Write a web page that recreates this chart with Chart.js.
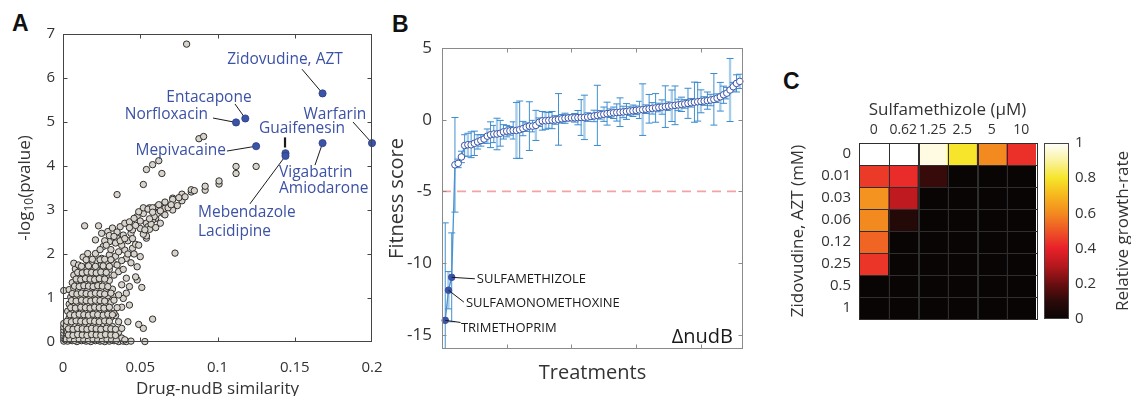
<!DOCTYPE html>
<html>
<head>
<meta charset="utf-8">
<script src="https://cdn.jsdelivr.net/npm/chart.js@4.4.1/dist/chart.umd.min.js"></script>
<style>
body { margin: 0; width: 1131px; height: 396px; background: #fff; position: relative; overflow: hidden; }
canvas { position: absolute; top: 0; }
.tag { position: absolute; font: bold 23px "Liberation Sans", Arial, sans-serif; line-height: 23px; color: #111; }
</style>
</head>
<body>
<div class="tag" style="left:12px;top:12px">A</div>
<div class="tag" style="left:392px;top:13px">B</div>
<div class="tag" style="left:783px;top:70px">C</div>
<canvas id="cA" width="400" height="396" style="left:0"></canvas>
<canvas id="cB" width="380" height="396" style="left:380px"></canvas>
<canvas id="cC" width="280" height="396" style="left:770px"></canvas>
<canvas id="cD" width="91" height="396" style="left:1040px"></canvas>
<script>
// ---- panel A: drug similarity vs -log10(p) ----
const simTicks = [0, 0.05, 0.1, 0.15, 0.2];
const pTicks = [0, 1, 2, 3, 4, 5, 6, 7];
const simPairs = [
  [0.0005,0.02],[0.0005,0.08],[0.0005,0.14],[0.0005,0.2],[0.0005,0.27],[0.0005,0.34],[0.0005,0.42],[0.0005,1.17],
  [0.003,0.02],[0.006,0.03],[0.009,0.01],[0.012,0.03],[0.015,0.02],[0.018,0.01],[0.021,0.03],[0.024,0.02],[0.027,0.01],[0.030,0.02],[0.033,0.03],[0.036,0.01],[0.039,0.02],[0.041,0.01],[0.044,0.02],[0.053,0.01],
  [0.002,0.09],[0.005,0.11],[0.008,0.08],[0.011,0.10],[0.014,0.12],[0.017,0.09],[0.020,0.11],[0.023,0.08],[0.026,0.10],[0.029,0.12],[0.032,0.09],[0.035,0.07],[0.038,0.09],
  [0.003,0.22],[0.006,0.20],[0.009,0.24],[0.012,0.21],[0.015,0.25],[0.018,0.22],[0.021,0.19],[0.024,0.23],[0.027,0.26],[0.030,0.20],[0.033,0.27],[0.036,0.22],
  [0.002,0.36],[0.005,0.40],[0.008,0.37],[0.011,0.41],[0.014,0.38],[0.017,0.35],[0.020,0.40],[0.023,0.37],[0.026,0.42],[0.029,0.38],[0.032,0.35],[0.042,0.46],[0.049,0.40],[0.052,0.31],[0.058,0.52],
  [0.004,0.55],[0.007,0.52],[0.010,0.57],[0.013,0.54],[0.016,0.50],[0.019,0.56],[0.022,0.53],[0.025,0.58],[0.028,0.51],[0.031,0.56],[0.034,0.60],
  [0.003,0.70],[0.006,0.72],[0.009,0.68],[0.012,0.73],[0.015,0.69],[0.018,0.71],[0.021,0.67],[0.024,0.74],[0.027,0.70],[0.030,0.66],[0.033,0.65],[0.038,0.79],[0.043,0.84],
  [0.004,0.86],[0.007,0.90],[0.010,0.85],[0.013,0.88],[0.016,0.84],[0.019,0.90],[0.022,0.86],[0.025,0.89],[0.028,0.83],[0.031,0.90],[0.039,0.99],
  [0.005,1.02],[0.008,1.05],[0.011,1.00],[0.014,1.04],[0.017,1.01],[0.020,1.06],[0.023,1.02],[0.026,0.98],[0.029,1.05],[0.033,1.03],[0.036,1.07],[0.041,1.11],
  [0.004,1.19],[0.007,1.22],[0.010,1.18],[0.013,1.21],[0.016,1.17],[0.019,1.23],[0.022,1.19],[0.025,1.16],[0.028,1.22],[0.032,1.20],[0.043,1.26],[0.051,1.24],
  [0.006,1.35],[0.009,1.38],[0.012,1.33],[0.015,1.37],[0.018,1.34],[0.021,1.39],[0.024,1.32],[0.027,1.36],[0.030,1.40],[0.038,1.30],[0.048,1.41],
  [0.007,1.52],[0.010,1.48],[0.013,1.53],[0.016,1.47],[0.019,1.51],[0.022,1.49],[0.025,1.55],[0.028,1.50],[0.033,1.52],[0.041,1.45],[0.047,1.48],
  [0.008,1.66],[0.011,1.63],[0.014,1.68],[0.017,1.64],[0.020,1.69],[0.023,1.62],[0.026,1.67],[0.030,1.65],[0.036,1.60],
  [0.007,1.79],[0.010,1.75],[0.015,1.71],[0.019,1.79],[0.022,1.84],[0.025,1.76],[0.028,1.82],[0.033,1.78],[0.048,1.71],
  [0.013,1.93],[0.016,2.01],[0.021,2.01],[0.025,1.90],[0.030,1.98],[0.034,1.95],[0.050,1.94],[0.041,1.90],[0.044,1.80],
  // second, staggered layer of the dense cloud
  [0.0015,0.05],[0.0045,0.06],[0.0075,0.04],[0.0105,0.06],[0.0135,0.05],[0.0165,0.04],[0.0195,0.06],[0.0225,0.05],[0.0255,0.04],[0.0285,0.06],[0.0315,0.05],[0.0345,0.04],[0.040,0.05],
  [0.0035,0.16],[0.0065,0.15],[0.0095,0.17],[0.0125,0.16],[0.0155,0.15],[0.0185,0.17],[0.0215,0.16],[0.0245,0.15],[0.0275,0.17],[0.031,0.16],[0.034,0.15],
  [0.0035,0.30],[0.0065,0.29],[0.0095,0.31],[0.0125,0.30],[0.0155,0.29],[0.0185,0.31],[0.0215,0.30],[0.0245,0.29],[0.028,0.31],[0.031,0.30],[0.034,0.29],[0.038,0.31],
  [0.0025,0.47],[0.0055,0.46],[0.0085,0.48],[0.0115,0.47],[0.0145,0.46],[0.0175,0.48],[0.0205,0.47],[0.0235,0.46],[0.027,0.48],[0.030,0.47],[0.036,0.46],
  [0.0045,0.62],[0.0075,0.61],[0.0105,0.63],[0.0135,0.62],[0.0165,0.61],[0.0195,0.63],[0.0225,0.62],[0.026,0.61],[0.029,0.63],[0.032,0.62],
  [0.005,0.78],[0.008,0.77],[0.0115,0.79],[0.0145,0.78],[0.0175,0.77],[0.0205,0.79],[0.0235,0.78],[0.0265,0.77],[0.030,0.79],[0.035,0.78],
  [0.0055,0.94],[0.0085,0.93],[0.012,0.95],[0.015,0.94],[0.018,0.93],[0.021,0.95],[0.024,0.94],[0.027,0.93],[0.033,0.95],
  [0.006,1.10],[0.009,1.09],[0.012,1.11],[0.015,1.10],[0.018,1.09],[0.021,1.11],[0.024,1.10],[0.027,1.09],[0.031,1.11],
  [0.0075,1.27],[0.0105,1.26],[0.0135,1.28],[0.0165,1.27],[0.0195,1.26],[0.0225,1.28],[0.0255,1.27],[0.029,1.26],
  [0.0085,1.43],[0.0115,1.42],[0.0145,1.44],[0.0175,1.43],[0.0205,1.42],[0.0235,1.44],[0.027,1.43],
  [0.0095,1.58],[0.0125,1.57],[0.0155,1.59],[0.0185,1.58],[0.0215,1.57],[0.0245,1.59],[0.028,1.58],
  [0.012,1.72],[0.0165,1.73],[0.021,1.72],[0.026,1.73],[0.030,1.72],
  [0.015,1.87],[0.019,1.88],[0.024,1.87],[0.027,1.88],[0.031,1.87],
  // arcs
  [0.036,2.05],[0.040,2.09],[0.045,2.13],[0.054,2.36],
  [0.026,2.17],[0.030,2.28],[0.035,2.36],[0.039,2.43],[0.044,2.47],[0.050,2.58],[0.054,2.70],[0.060,2.81],[0.065,2.92],[0.066,2.89],
  [0.021,2.32],[0.025,2.47],[0.029,2.51],[0.032,2.59],[0.037,2.62],[0.040,2.70],[0.043,2.73],[0.048,2.85],[0.052,2.92],[0.056,3.05],[0.061,3.08],[0.066,3.16],[0.071,3.27],
  [0.046,2.81],[0.049,2.96],[0.052,3.05],[0.055,3.02],[0.058,3.05],[0.062,3.12],[0.066,3.04],[0.066,3.18],[0.071,3.00],[0.071,3.24],[0.074,3.10],[0.077,3.21],[0.077,3.36],
  [0.061,2.92],[0.058,2.77],[0.055,2.62],[0.059,2.85],[0.056,2.56],[0.054,2.41],
  [0.083,3.41],[0.083,3.46],[0.092,3.45],[0.092,3.54],[0.101,3.59],[0.101,3.66],[0.112,3.83],[0.112,3.99],[0.125,3.99],
  [0.042,2.30],[0.045,2.55],[0.038,2.20],[0.047,2.22],[0.052,2.45],[0.057,2.68],[0.063,2.70],[0.060,2.60],[0.031,2.10],[0.034,2.25],[0.027,2.30],[0.030,2.42],[0.035,2.50],
  [0.024,2.10],[0.028,2.20],[0.033,2.40],[0.037,2.30],[0.040,2.35],[0.043,2.60],[0.047,2.65],[0.050,2.75],[0.038,1.85],[0.042,2.00],[0.046,2.00],[0.035,1.75],
  [0.039,1.65],[0.045,2.35],[0.049,2.20],[0.053,2.55],[0.056,2.80],[0.058,2.95],[0.063,2.98],[0.068,3.05],[0.070,3.12],[0.075,3.28],[0.079,3.30],[0.085,3.44],
  // outliers
  [0.014,2.64],[0.023,2.64],[0.035,3.35],[0.052,3.58],[0.054,3.92],[0.058,4.03],[0.062,4.12],[0.064,3.83],[0.088,4.62],[0.091,4.67],[0.080,6.77],[0.0725,2.02]
];
// highlighted drugs (blue)
const hitNames = ['Zidovudine, AZT', 'Entacapone', 'Norfloxacin', 'Mepivacaine', 'Guaifenesin', 'Mebendazole/Lacidipine', 'Vigabatrin/Amiodarone', 'Warfarin'];
const hitX = [0.168, 0.118, 0.112, 0.125, 0.144, 0.144, 0.168, 0.2];
const hitY = [5.65, 5.08, 4.99, 4.45, 4.29, 4.23, 4.52, 4.52];
const labelsA = [
  { t: 'Zidovudine, AZT', x: 0.1437, y: 6.43, a: 'center' },
  { t: 'Entacapone', x: 0.0945, y: 5.55, a: 'center' },
  { t: 'Norfloxacin', x: 0.0939, y: 5.18, a: 'right' },
  { t: 'Mepivacaine', x: 0.1055, y: 4.34, a: 'right' },
  { t: 'Guaifenesin', x: 0.1547, y: 4.86, a: 'center' },
  { t: 'Vigabatrin', x: 0.1398, y: 3.84, a: 'left' },
  { t: 'Amiodarone', x: 0.1398, y: 3.48, a: 'left' },
  { t: 'Warfarin', x: 0.176, y: 5.18, a: 'center' },
  { t: 'Mebendazole', x: 0.0874, y: 2.95, a: 'left' },
  { t: 'Lacidipine', x: 0.0874, y: 2.52, a: 'left' }
];
const leadersA = [
  { from: [0.1547, 6.2], pt: 0 },
  { from: [0.1113, 5.41], pt: 1 },
  { from: [0.0971, 5.09], pt: 2 },
  { from: [0.1061, 4.34], pt: 3 },
  { from: [0.1437, 4.65], to: [0.1437, 4.42], w: 2.2 },
  { from: [0.121, 3.14], pt: 5 },
  { from: [0.1631, 4.02], pt: 6 },
  { from: [0.1877, 5.0], pt: 7 }
];

// ---- panel B: fitness scores of treatments ----
const treatTicks = [20, 40, 60, 80];
const fitTicks = [-15, -10, -5, 0, 5];
const threshold = -5;
const drugLabelsB = ['TRIMETHOPRIM', 'SULFAMONOMETHOXINE', 'SULFAMETHIZOLE'];
const fitness = [
  -14.0, -11.9, -11.0, -3.15, -3.05, -2.6, -1.8, -1.75, -1.75, -1.65,
  -1.55, -1.45, -1.35, -1.15, -1.05, -1.0, -1.0, -0.95, -0.85, -0.8,
  -0.78, -0.75, -0.75, -0.7, -0.62, -0.52, -0.45, -0.45, -0.4, -0.18,
  -0.08, -0.07, -0.05, -0.03, -0.02, 0.02, 0.06, 0.1, 0.12, 0.13,
  0.13, 0.14, 0.15, 0.16, 0.18, 0.22, 0.26, 0.3, 0.34, 0.38,
  0.42, 0.45, 0.48, 0.5, 0.52, 0.54, 0.57, 0.6, 0.62, 0.65,
  0.68, 0.7, 0.73, 0.76, 0.79, 0.82, 0.85, 0.88, 0.91, 0.94,
  0.97, 1.0, 1.03, 1.07, 1.1, 1.14, 1.18, 1.22, 1.25, 1.28,
  1.3, 1.33, 1.37, 1.42, 1.5, 1.6, 1.74, 1.85, 2.07, 2.3,
  2.53, 2.67
];
const fitErr = [
  6.8, 1.3, 3.1, 3.3, 0.3, 0.4, 0.75, 0.8, 0.9, 0.85,
  0.5, 0.4, 0.3, 0.5, 0.9, 0.6, 1.1, 0.9, 0.5, 0.4,
  0.3, 0.6, 1.95, 2.0, 0.5, 0.3, 1.7, 0.4, 1.05, 0.3,
  0.65, 0.6, 0.55, 0.6, 0.3, 1.8, 0.3, 0.35, 0.2, 0.2,
  0.3, 0.5, 1.25, 1.55, 0.3, 0.2, 0.4, 2.1, 0.3, 0.5,
  0.8, 0.3, 0.4, 0.6, 1.0, 0.4, 0.55, 0.3, 0.4, 0.3,
  0.6, 1.8, 0.3, 1.0, 0.4, 1.0, 0.3, 0.5, 1.45, 0.3,
  1.1, 1.35, 0.4, 0.5, 0.3, 1.05, 0.3, 1.4, 1.35, 0.8,
  0.3, 0.6, 0.4, 1.8, 0.3, 1.0, 0.6, 0.4, 2.2, 0.3,
  0.6, 0.5
];
const labelsB = [
  { t: 'SULFAMETHIZOLE', x: 10.77, y: -11.14, from: [10.15, -11.1], pt: 2 },
  { t: 'SULFAMONOMETHOXINE', x: 7.38, y: -12.82, from: [6.77, -12.73], pt: 1 },
  { t: 'TRIMETHOPRIM', x: 5.85, y: -14.56, from: [5.75, -14.15], pt: 0 }
];

// ---- panel C: checkerboard of growth rates ----
const sulfaDoses = ['0', '0.62', '1.25', '2.5', '5', '10'];
const aztDoses = ['0', '0.01', '0.03', '0.06', '0.12', '0.25', '0.5', '1'];
const growth = [
  [1.0, 1.0, 0.97, 0.8, 0.6, 0.43],
  [0.45, 0.42, 0.12, 0.0, 0.0, 0.0],
  [0.62, 0.32, 0.0, 0.0, 0.0, 0.0],
  [0.6, 0.08, 0.0, 0.0, 0.0, 0.0],
  [0.53, 0.0, 0.0, 0.0, 0.0, 0.0],
  [0.44, 0.0, 0.0, 0.0, 0.0, 0.0],
  [0.0, 0.0, 0.0, 0.0, 0.0, 0.0],
  [0.0, 0.0, 0.0, 0.0, 0.0, 0.0]
];
const cbTicks = [0, 0.2, 0.4, 0.6, 0.8, 1];
const hotStops = [[0, '#0a0505'], [0.1, '#2b0a0a'], [0.2, '#6b0e10'], [0.3, '#b3181d'], [0.4, '#e8202a'],
  [0.5, '#ee5526'], [0.6, '#f38a20'], [0.7, '#f6b61d'], [0.8, '#f6e52a'], [0.9, '#faf3a0'], [1, '#ffffff']];

function hexRgb(h) { return [1, 3, 5].map(i => parseInt(h.substr(i, 2), 16)); }
function hotColor(v) {
  for (let i = 1; i < hotStops.length; i++) {
    if (v <= hotStops[i][0]) {
      const [v0, c0] = hotStops[i - 1], [v1, c1] = hotStops[i];
      const f = (v - v0) / (v1 - v0), a = hexRgb(c0), b = hexRgb(c1);
      return 'rgb(' + a.map((c, k) => Math.round(c + (b[k] - c) * f)).join(',') + ')';
    }
  }
  return hotStops[hotStops.length - 1][1];
}

Chart.defaults.font.family = '"Open Sans", sans-serif';
Chart.defaults.color = '#333';
Chart.defaults.animation = false;
Chart.defaults.plugins.legend.display = false;
Chart.defaults.plugins.tooltip.enabled = false;

const setTicks = arr => s => { s.ticks = arr.map(v => ({ value: v })); };
const noGrid = { display: false, drawTicks: false };
const noBorder = { display: false };

// box round the plot area, with inward ticks like matlab
const frame = {
  id: 'frame',
  afterDraw(chart, args, opts) {
    const { ctx, chartArea: a } = chart;
    ctx.save();
    ctx.strokeStyle = opts.color || '#444';
    ctx.lineWidth = 1;
    const l = Math.round(a.left) + 0.5, t = Math.round(a.top) + 0.5;
    const r = Math.round(a.right) - 0.5, b = Math.round(a.bottom) - 0.5;
    ctx.strokeRect(l, t, r - l, b - t);
    const L = opts.tick || 0;
    if (L) {
      ctx.beginPath();
      const sx = chart.scales.x, sy = chart.scales.y;
      if (sx) sx.ticks.forEach(k => {
        const p = Math.round(sx.getPixelForValue(k.value)) + 0.5;
        if (p < l + 2 || p > r - 2) return;
        ctx.moveTo(p, b); ctx.lineTo(p, b - L);
        ctx.moveTo(p, t); ctx.lineTo(p, t + L);
      });
      if (sy) sy.ticks.forEach(k => {
        const p = Math.round(sy.getPixelForValue(k.value)) + 0.5;
        if (p < t + 2 || p > b - 2) return;
        ctx.moveTo(l, p); ctx.lineTo(l + L, p);
        ctx.moveTo(r, p); ctx.lineTo(r - L, p);
      });
      ctx.stroke();
    }
    ctx.restore();
  }
};

// panel A annotations
const annotA = {
  id: 'annotA',
  beforeDatasetsDraw(chart) {
    const { ctx, scales: { x, y } } = chart;
    ctx.save();
    ctx.strokeStyle = '#1a1a1a';
    leadersA.forEach(d => {
      const to = d.to || [hitX[d.pt], hitY[d.pt]];
      ctx.lineWidth = d.w || 1;
      ctx.beginPath();
      ctx.moveTo(x.getPixelForValue(d.from[0]), y.getPixelForValue(d.from[1]));
      ctx.lineTo(x.getPixelForValue(to[0]), y.getPixelForValue(to[1]));
      ctx.stroke();
    });
    ctx.restore();
  },
  afterDatasetsDraw(chart) {
    const { ctx, scales: { x, y } } = chart;
    ctx.save();
    ctx.fillStyle = '#3c52a4';
    ctx.font = '15.5px "Open Sans"';
    ctx.textBaseline = 'middle';
    labelsA.forEach(d => {
      ctx.textAlign = d.a;
      ctx.fillText(d.t, x.getPixelForValue(d.x), y.getPixelForValue(d.y));
    });
    // y title with subscript
    const cy = (chart.chartArea.top + chart.chartArea.bottom) / 2;
    ctx.fillStyle = '#333';
    ctx.translate(25, cy);
    ctx.rotate(-Math.PI / 2);
    ctx.textAlign = 'left';
    ctx.textBaseline = 'middle';
    const big = '17px "Open Sans"', small = '12px "Open Sans"';
    ctx.font = big; const w1 = ctx.measureText('-log').width, w3 = ctx.measureText('(pvalue)').width;
    ctx.font = small; const w2 = ctx.measureText('10').width;
    let px = -(w1 + w2 + w3) / 2;
    ctx.font = big; ctx.fillText('-log', px, 0); px += w1;
    ctx.font = small; ctx.fillText('10', px, 5); px += w2;
    ctx.font = big; ctx.fillText('(pvalue)', px, 0);
    ctx.restore();
  }
};

new Chart(document.getElementById('cA'), {
  type: 'scatter',
  data: {
    datasets: [
      { data: hitX.map((x, i) => ({ x, y: hitY[i] })), backgroundColor: '#3b54a6', borderColor: '#2c3f86',
        borderWidth: 0.8, pointRadius: 3.6, order: 0, clip: false },
      { data: simPairs.map(([x, y]) => ({ x, y })), backgroundColor: '#d8d3cb', borderColor: '#2e2e2e',
        borderWidth: 1, pointRadius: 3.2, order: 1, clip: false }
    ]
  },
  options: {
    responsive: false,
    layout: { padding: { top: 34, right: 28, left: 0, bottom: 0 } },
    scales: {
      x: {
        type: 'linear', min: 0, max: 0.2,
        afterFit: s => { s.height = 54; }, afterBuildTicks: setTicks(simTicks),
        ticks: { padding: 17, font: { size: 15 }, callback: v => String(v) },
        grid: noGrid, border: noBorder,
        title: { display: true, text: 'Drug-nudB similarity', font: { size: 17, lineHeight: 0.8 }, padding: { top: 0, bottom: 0 } }
      },
      y: {
        type: 'linear', min: 0, max: 7,
        afterFit: s => { s.width = 63; }, afterBuildTicks: setTicks(pTicks),
        ticks: { padding: 8, font: { size: 15 } },
        grid: noGrid, border: noBorder
      }
    },
    plugins: { frame: { color: '#444', tick: 4 } }
  },
  plugins: [frame, annotA]
});

// panel B error bars + labels
const extrasB = {
  id: 'extrasB',
  beforeDatasetsDraw(chart) {
    const { ctx, chartArea: a, scales: { x, y } } = chart;
    ctx.save();
    ctx.beginPath();
    ctx.rect(a.left, a.top, a.right - a.left, a.bottom - a.top);
    ctx.clip();
    fitness.forEach((v, i) => {
      const px = x.getPixelForValue(i + 1);
      const t = y.getPixelForValue(v + fitErr[i]), b = y.getPixelForValue(v - fitErr[i]);
      const light = i % 3 === 1;
      ctx.strokeStyle = light ? '#a8cdea' : '#4190d0';
      ctx.lineWidth = light ? 2.4 : 1;
      ctx.beginPath(); ctx.moveTo(px, t); ctx.lineTo(px, b); ctx.stroke();
      ctx.strokeStyle = '#3a8bcf';
      ctx.lineWidth = 1;
      ctx.beginPath();
      ctx.moveTo(px - 3.5, t); ctx.lineTo(px + 3.5, t);
      ctx.moveTo(px - 3.5, b); ctx.lineTo(px + 3.5, b);
      ctx.stroke();
    });
    ctx.restore();
  },
  afterDatasetsDraw(chart) {
    const { ctx, chartArea: a, scales: { x, y } } = chart;
    ctx.save();
    ctx.strokeStyle = '#1a1a1a';
    ctx.lineWidth = 1;
    labelsB.forEach(d => {
      ctx.beginPath();
      ctx.moveTo(x.getPixelForValue(d.pt + 1), y.getPixelForValue(fitness[d.pt]));
      ctx.lineTo(x.getPixelForValue(d.from[0]), y.getPixelForValue(d.from[1]));
      ctx.stroke();
    });
    ctx.fillStyle = '#1a1a1a';
    ctx.font = '13px "Open Sans"';
    ctx.textAlign = 'left';
    ctx.textBaseline = 'middle';
    labelsB.forEach(d => ctx.fillText(d.t, x.getPixelForValue(d.x), y.getPixelForValue(d.y)));
    ctx.font = '20px "Open Sans"';
    ctx.textAlign = 'right';
    ctx.textBaseline = 'alphabetic';
    ctx.fillText('\u0394nudB', a.right - 10, a.bottom - 6);
    ctx.restore();
  }
};

new Chart(document.getElementById('cB'), {
  type: 'line',
  data: {
    datasets: [
      { data: fitness.map((v, i) => ({ x: i + 1, y: v })), borderColor: '#4a92d2', borderWidth: 1.3,
        pointRadius: 3.3, pointBorderWidth: 1, pointBorderColor: '#3b54a6',
        pointBackgroundColor: fitness.map((v, i) => i < drugLabelsB.length ? '#3b54a6' : '#ffffff'),
        order: 0, clip: false },
      { data: [{ x: 0, y: threshold }, { x: 93, y: threshold }], borderColor: '#f4a3a3', borderWidth: 1.6,
        borderDash: [9, 6], pointRadius: 0, order: 1 }
    ]
  },
  options: {
    responsive: false,
    layout: { padding: { top: 48, right: 17, left: 0, bottom: 0 } },
    scales: {
      x: {
        type: 'linear', min: 0, max: 93,
        afterFit: s => { s.height = 47; }, afterBuildTicks: setTicks(treatTicks),
        ticks: { display: false }, grid: noGrid, border: noBorder,
        title: { display: true, text: 'Treatments', font: { size: 20, lineHeight: 1.2 }, padding: { top: 0, bottom: 11 } }
      },
      y: {
        type: 'linear', min: -16, max: 5,
        afterFit: s => { s.width = 62; }, afterBuildTicks: setTicks(fitTicks),
        ticks: { padding: 10, font: { size: 17 } }, grid: noGrid, border: noBorder,
        title: { display: true, text: 'Fitness score', font: { size: 20, lineHeight: 1.2 }, padding: { top: 5, bottom: 0 } }
      }
    },
    plugins: { frame: { color: '#8a8a8a', tick: 4 } }
  },
  plugins: [frame, extrasB]
});

// panel C cell outlines
const cellLines = {
  id: 'cellLines',
  afterDatasetsDraw(chart) {
    const { ctx } = chart;
    ctx.save();
    ctx.strokeStyle = '#2e2e2e';
    ctx.lineWidth = 1;
    chart.data.datasets.forEach((ds, r) => {
      chart.getDatasetMeta(r).data.forEach(el => {
        const top = Math.min(el.y, el.base), h = Math.abs(el.base - el.y);
        ctx.strokeRect(Math.round(el.x - el.width / 2) + 0.5, Math.round(top) + 0.5, Math.round(el.width), Math.round(h));
      });
    });
    ctx.restore();
  }
};

new Chart(document.getElementById('cC'), {
  type: 'bar',
  data: {
    labels: sulfaDoses,
    datasets: growth.map((row, r) => ({
      data: row.map(() => [r, r + 1]),
      backgroundColor: row.map(hotColor),
      borderWidth: 0, grouped: false, barPercentage: 1, categoryPercentage: 1
    }))
  },
  options: {
    responsive: false,
    layout: { padding: { top: 88, right: 14, left: 0, bottom: 77 } },
    scales: {
      x: {
        position: 'top', afterFit: s => { s.height = 55; },
        ticks: { padding: 5, font: { size: 14 }, maxRotation: 0, minRotation: 0, autoSkip: false },
        grid: noGrid, border: noBorder,
        title: { display: true, text: 'Sulfamethizole (\u03bcM)', font: { size: 17, lineHeight: 1.2 }, padding: { top: 12, bottom: 0 } }
      },
      y: {
        type: 'linear', min: 0, max: 8, reverse: true,
        afterFit: s => { s.width = 89; },
        afterBuildTicks: s => { s.ticks = aztDoses.map((d, i) => ({ value: i + 0.5 })); },
        ticks: { padding: 8, font: { size: 15 }, callback: (v, i) => aztDoses[i] },
        grid: noGrid, border: noBorder,
        title: { display: true, text: 'Zidovudine, AZT (mM)', font: { size: 17, lineHeight: 1.2 }, padding: { top: 18, bottom: 0 } }
      }
    }
  },
  plugins: [cellLines]
});

// colour bar
const cbTitle = {
  id: 'cbTitle',
  afterDraw(chart) {
    const { ctx, chartArea: a } = chart;
    ctx.save();
    ctx.translate(83, (a.top + a.bottom) / 2);
    ctx.rotate(-Math.PI / 2);
    ctx.fillStyle = '#333';
    ctx.font = '17px "Open Sans"';
    ctx.textAlign = 'center';
    ctx.textBaseline = 'middle';
    ctx.fillText('Relative growth-rate', 0, 0);
    ctx.restore();
  }
};

new Chart(document.getElementById('cD'), {
  type: 'bar',
  data: {
    labels: [''],
    datasets: [{
      data: [[0, 1]], borderWidth: 0, barPercentage: 1, categoryPercentage: 1,
      backgroundColor: c => {
        const a = c.chart.chartArea;
        if (!a) return '#000';
        const g = c.chart.ctx.createLinearGradient(0, a.bottom, 0, a.top);
        hotStops.forEach(([v, col]) => g.addColorStop(v, col));
        return g;
      }
    }]
  },
  options: {
    responsive: false,
    layout: { padding: { top: 143, right: 0, left: 4, bottom: 77 } },
    scales: {
      x: { display: false },
      y: {
        position: 'right', min: 0, max: 1,
        afterFit: s => { s.width = 62; }, afterBuildTicks: setTicks(cbTicks),
        ticks: { padding: 6, font: { size: 15 }, callback: v => String(v) },
        grid: noGrid, border: noBorder
      }
    },
    plugins: { frame: { color: '#444', tick: 0 } }
  },
  plugins: [frame, cbTitle]
});
</script>
</body>
</html>
